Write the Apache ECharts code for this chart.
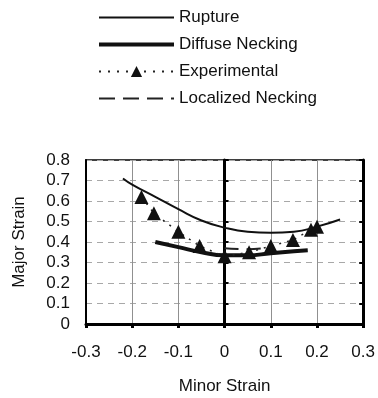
<!DOCTYPE html>
<html><head><meta charset="utf-8">
<script src="https://cdn.jsdelivr.net/npm/echarts@6/dist/echarts.min.js"></script>
<style>html,body{margin:0;padding:0;background:#fff}#c{width:378px;height:398px}</style>
</head><body><div id="c"></div>
<script>
var xTicks = [-0.3, -0.2, -0.1, 0, 0.1, 0.2, 0.3];
var yTicks = [0, 0.1, 0.2, 0.3, 0.4, 0.5, 0.6, 0.7, 0.8];
var ruptureX = [-0.22, -0.2, -0.15, -0.1, -0.05, 0, 0.05, 0.1, 0.15, 0.2, 0.25];
var ruptureY = [0.71, 0.68, 0.62, 0.56, 0.505, 0.47, 0.45, 0.445, 0.45, 0.475, 0.51];
var diffuseX = [-0.15, -0.1, -0.05, 0, 0.05, 0.1, 0.15, 0.18];
var diffuseY = [0.40, 0.375, 0.35, 0.335, 0.335, 0.345, 0.355, 0.36];
var expX = [-0.18, -0.153, -0.1, -0.054, 0, 0.053, 0.1, 0.148, 0.187, 0.2];
var expY = [0.62, 0.54, 0.45, 0.38, 0.33, 0.35, 0.38, 0.41, 0.46, 0.475];
var locX = [0, 0.05, 0.1];
var locY = [0.37, 0.365, 0.375];

function pairs(xs, ys){ return xs.map(function(x,i){ return [x, ys[i]]; }); }
function fmt(v){ var r=Math.round(v*10)/10; return r===0?'0':r.toFixed(1); }
var F = 'Liberation Sans, Arial, sans-serif';
var hide = {opacity:0, color:'transparent', borderColor:'transparent'};
var chart = echarts.init(document.getElementById('c'), null, {renderer:'canvas'});
var yBase = {type:'value', min:0, max:0.8, interval:0.1};
chart.setOption({
  animation:false,
  backgroundColor:'#fff',
  textStyle:{fontFamily:F},
  legend:{
    orient:'vertical', left:97, top:9, padding:0, itemWidth:75, itemHeight:14, itemGap:10, itemTextGap:4,
    textStyle:{fontFamily:F, fontSize:17, color:'#111', lineHeight:17},
    data:[
      {name:'Rupture', itemStyle:hide, lineStyle:{width:2, color:'#111'}},
      {name:'Diffuse Necking', itemStyle:hide, lineStyle:{width:4, color:'#111'}},
      {name:'Experimental', lineStyle:{width:2, color:'#222', type:[2,7]}},
      {name:'Localized Necking', itemStyle:hide, lineStyle:{width:2, color:'#222', type:[16,8]}}
    ]
  },
  grid:{left:86, right:10, top:160, bottom:74, show:true, borderColor:'#000', borderWidth:1.5, backgroundColor:'#fff'},
  xAxis:{
    type:'value', min:-0.3, max:0.3, interval:0.1,
    name:'Minor Strain', nameLocation:'middle', nameGap:54,
    nameTextStyle:{fontFamily:F, fontSize:17, color:'#111'},
    axisLine:{onZero:false, lineStyle:{color:'#000', width:3}},
    axisTick:{show:true, length:4, lineStyle:{color:'#000', width:3}},
    axisLabel:{fontFamily:F, fontSize:17, color:'#111', margin:20, formatter:fmt},
    splitLine:{show:true, lineStyle:{color:'#909090', width:1}}
  },
  yAxis:[
    Object.assign({}, yBase, {
      position:'left',
      name:'Major Strain', nameLocation:'middle', nameGap:58,
      nameTextStyle:{fontFamily:F, fontSize:17, color:'#111'},
      axisLine:{show:true, onZero:false, lineStyle:{color:'#000', width:2}},
      axisTick:{show:false},
      axisLabel:{fontFamily:F, fontSize:17, color:'#111', margin:16, formatter:fmt},
      splitLine:{show:true, lineStyle:{color:'#a8a8a8', width:1, type:[6,5]}}
    }),
    Object.assign({}, yBase, {
      position:'right',
      axisLine:{show:true, onZero:true, lineStyle:{color:'#000', width:3}},
      axisTick:{show:true, length:4, lineStyle:{color:'#000', width:2}},
      axisLabel:{show:false}, splitLine:{show:false}
    }),
    Object.assign({}, yBase, {
      position:'right',
      axisLine:{show:true, onZero:true, lineStyle:{color:'#000', width:3}},
      axisTick:{show:true, inside:true, length:4, lineStyle:{color:'#000', width:2}},
      axisLabel:{show:false}, splitLine:{show:false}
    })
  ],
  series:[
    {name:'Rupture', type:'line', smooth:true, symbol:'none', data:pairs(ruptureX, ruptureY),
      lineStyle:{color:'#111', width:2}, itemStyle:{color:'#111'}, z:3},
    {name:'Diffuse Necking', type:'line', smooth:true, symbol:'none', data:pairs(diffuseX, diffuseY),
      lineStyle:{color:'#111', width:4}, itemStyle:{color:'#111'}, z:3},
    {name:'Experimental', type:'line', smooth:false, symbol:'triangle', symbolSize:14, data:pairs(expX, expY),
      lineStyle:{color:'#222', width:1.5, type:[2,6]}, itemStyle:{color:'#111'}, z:4},
    {name:'Localized Necking', type:'line', smooth:true, symbol:'none', data:pairs(locX, locY),
      lineStyle:{color:'#222', width:2, type:[14,8]}, itemStyle:{color:'#111'}, z:3}
  ]
});
</script></body></html>
